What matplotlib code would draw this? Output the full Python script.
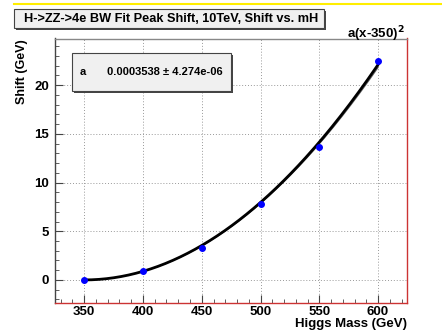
import matplotlib.pyplot as plt
import numpy as np
from matplotlib.patches import Rectangle
from matplotlib.ticker import MultipleLocator

# data
higgs_mass = [350, 400, 450, 500, 550, 600]
shift = [-0.05, 0.96, 3.32, 7.82, 13.7, 22.5]

# fit result a(x-350)^2
fit_a = 0.0003538
fit_a_err = 4.274e-06
fit_a_thin = 0.000349  # second (thin) fit curve drawn under the main one

W, H = 442, 330
plt.rcParams['font.family'] = ['Liberation Sans', 'DejaVu Sans']
plt.rcParams['font.weight'] = 'bold'
plt.rcParams['mathtext.default'] = 'bf'

fig = plt.figure(figsize=(W / 100, H / 100), dpi=100)


def fx(px):
    return px / W


def fy(py):
    return 1 - py / H


ax = fig.add_axes([fx(54.5), fy(302.7), fx(407.3) - fx(54.5), fy(38.5) - fy(302.7)])

xs = np.linspace(350, 600, 200)
ax.plot(xs, fit_a_thin * (xs - 350) ** 2, color='#666666', lw=0.8, zorder=3)
ax.plot(xs, fit_a * (xs - 350) ** 2, color='black', lw=2.0, zorder=4)
ax.plot(higgs_mass, shift, 'o', color='#0000ff', ms=4, zorder=5)

ax.set_xlim(324.7, 624.9)
ax.set_ylim(-2.34, 24.8)
ax.xaxis.set_major_locator(MultipleLocator(50))
ax.xaxis.set_minor_locator(MultipleLocator(10))
ax.yaxis.set_major_locator(MultipleLocator(5))
ax.yaxis.set_minor_locator(MultipleLocator(1))
ax.tick_params(which='both', direction='in', color='#444444', labelsize=9.5)
ax.tick_params(which='major', length=6)
ax.tick_params(which='minor', length=3)
ax.tick_params(axis='x', pad=2.5)
ax.tick_params(axis='y', pad=4)
for lab in ax.get_xticklabels() + ax.get_yticklabels():
    lab.set_fontweight('bold')
ax.grid(True, which='major', color='#999999', lw=0.7, linestyle=(0, (1, 2)))
ax.set_axisbelow(True)

ax.spines['left'].set_color('#444444')
ax.spines['top'].set_color('#888888')
ax.spines['bottom'].set_color('#cc3333')
ax.spines['right'].set_color('#cc3333')
for s in ax.spines.values():
    s.set_linewidth(1.0)

# axis titles
fig.text(fx(407), fy(323.5), 'Higgs Mass (GeV)', ha='right', va='center', fontsize=9.5, fontweight='bold')
fig.text(fx(22), fy(39), 'Shift (GeV)', ha='center', va='top', rotation=90, fontsize=9, fontweight='bold')

# yellow line at top
fig.add_artist(plt.Line2D([fx(14), 1], [fy(4), fy(4)], color='#ffee00', lw=1.5))


def box(x0, y0, x1, y1):
    fig.add_artist(Rectangle((fx(x0 + 2), fy(y1 + 2)), fx(x1 - x0), fy(y0) - fy(y1),
                             facecolor='#444444', edgecolor='none', zorder=10))
    fig.add_artist(Rectangle((fx(x0), fy(y1)), fx(x1 - x0), fy(y0) - fy(y1),
                             facecolor='#f0f0f0', edgecolor='#444444', lw=0.8, zorder=11))


# title box
box(14, 9, 324, 28)
fig.text(fx(171), fy(18.5), 'H->ZZ->4e BW Fit Peak Shift, 10TeV, Shift vs. mH',
         ha='center', va='center', fontsize=9.2, fontweight='bold', zorder=12)

# fit function label
fig.text(fx(405), fy(34), 'a(x-350)$^{\\mathbf{2}}$', ha='right', va='center',
         fontsize=9.5, fontweight='bold')

# stats box
box(72, 53, 231, 91)
fig.text(fx(80), fy(72), 'a', ha='left', va='center', fontsize=8, fontweight='bold', zorder=12)
fig.text(fx(223), fy(72), f'{fit_a:.7f} \u00b1 {fit_a_err:.3e}',
         ha='right', va='center', fontsize=8, fontweight='bold', zorder=12)

fig.savefig('out.png', dpi=100)
